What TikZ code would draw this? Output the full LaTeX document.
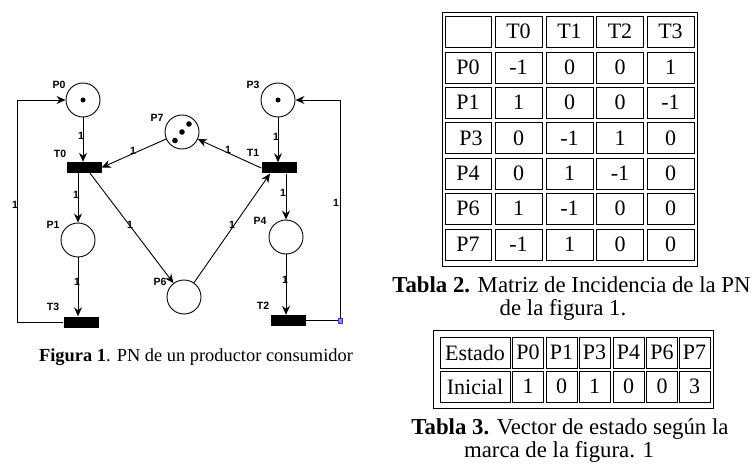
\documentclass[tikz,border=0pt]{standalone}
\usepackage{fontspec}
\setmainfont{Liberation Serif}
\newfontfamily\netsans{Liberation Sans}
\usepackage{tikz}
\usetikzlibrary{arrows.meta,calc}

\begin{document}
\begin{tikzpicture}[x=1pt,y=-1pt,
	place/.style={draw,circle,minimum size=34,inner sep=0,line width=0.9pt},
	trans/.style={fill=black,minimum width=35,minimum height=11,inner sep=0},
	arc/.style={line width=0.9pt,-{Stealth[length=9pt,width=8pt,inset=3pt]}},
	netlbl/.style={font=\netsans\bfseries\fontsize{10.5}{12}\selectfont,inner sep=0},
	cell/.style={draw,line width=0.9pt,minimum width=47,minimum height=31,inner sep=0,font=\fontsize{22}{24}\selectfont},
	vcell/.style={cell,minimum width=31},
	capt/.style={font=\fontsize{22.8}{26}\selectfont,inner sep=0,anchor=base}]
	\useasboundingbox (0,0) rectangle (754,470);
	% places and transitions
	\node[place] (P0) at (83,100) {};
	\node[place] (P7) at (182,132) {};
	\node[place] (P3) at (278,100) {};
	\node[place] (P1) at (78,240) {};
	\node[place] (P6) at (184,297) {};
	\node[place] (P4) at (286,237) {};
	\node[trans] (T0) at (84,167.5) {};
	\node[trans] (T1) at (279,168) {};
	\node[trans] (T3) at (81,322) {};
	\node[trans] (T2) at (288,320.5) {};
	% tokens
	\fill (P0) circle (2.5pt);
	\fill (P3) circle (2.5pt);
	\fill ($(P7)+(7,-8)$) circle (2.8pt);
	\fill (P7) circle (2.8pt);
	\fill ($(P7)+(-7,8.5)$) circle (2.8pt);
	% names
	\node[netlbl] (lP0) at (59,85) {P0};
	\node[netlbl] (lT0) at (60,153.5) {T0};
	\node[netlbl] (lP7) at (157,117.5) {P7};
	\node[netlbl] (lP3) at (253,85) {P3};
	\node[netlbl] (lT1) at (253,153) {T1};
	\node[netlbl] (lP1) at (53,225) {P1};
	\node[netlbl] (lT3) at (53,307) {T3};
	\node[netlbl] (lP6) at (160,282) {P6};
	\node[netlbl] (lP4) at (260,221) {P4};
	\node[netlbl] (lT2) at (263,306) {T2};
	% arcs
	\draw[arc] (P0) -- (P0 |- T0.north);
	\draw[arc] (P7) -- (T0.east);
	\draw[arc] (T0.south -| P1) -- (P1);
	\draw[arc] ([xshift=6pt]T0.south) -- (P6);
	\draw[arc] (P1) -- (P1 |- T3.north);
	\draw[arc] (P3) -- (P3 |- T1.north);
	\draw[arc] (T1.west) -- (P7);
	\draw[arc] (T1.south -| P4) -- (P4);
	\draw[arc] (P6) -- ([xshift=-9pt]T1.south);
	\draw[arc] (P4) -- (P4 |- T2.north);
	\coordinate (loopL) at (17,322);
	\coordinate (loopR) at (340,320.5);
	\draw[arc] (T3.west) -- (loopL) |- (P0);
	\draw[arc] (T2.east) -- (loopR) |- (P3);
	\node[draw=blue!80,fill=blue!45,minimum size=4.5,inner sep=0] (mk) at (loopR) {};
	% weights
	\node[netlbl] (w1) at (81,136) {1};
	\node[netlbl] (w2) at (133,151) {1};
	\node[netlbl] (w3) at (76,195) {1};
	\node[netlbl] (w4) at (15,205) {1};
	\node[netlbl] (w5) at (130,225) {1};
	\node[netlbl] (w6) at (77,282) {1};
	\node[netlbl] (w7) at (228,150) {1};
	\node[netlbl] (w8) at (276,137) {1};
	\node[netlbl] (w9) at (283,193) {1};
	\node[netlbl] (w10) at (336,203) {1};
	\node[netlbl] (w11) at (232,225) {1};
	\node[netlbl] (w12) at (285,280) {1};
	\node[inner sep=0,anchor=base,font=\fontsize{18.4}{22}\selectfont] (fig) at (196,361) {\textbf{Figura 1}. PN de un productor consumidor};
	% tabla 2
	\draw[line width=0.9pt] (442,12) rectangle (697,266);
	\node[cell,minimum width=46] (a00) at (468,31.5) {};
	\node[cell] (a01) at (518.5,31.5) {T0};
	\node[cell] (a02) at (569.5,31.5) {T1};
	\node[cell] (a03) at (620,31.5) {T2};
	\node[cell] (a04) at (670.5,31.5) {T3};
	\node[cell,minimum width=46] (a10) at (468,67.5) {P0};
	\node[cell] (a11) at (518.5,67.5) {-1};
	\node[cell] (a12) at (569.5,67.5) {0};
	\node[cell] (a13) at (620,67.5) {0};
	\node[cell] (a14) at (670.5,67.5) {1};
	\node[cell,minimum width=46] (a20) at (468,102.5) {P1};
	\node[cell] (a21) at (518.5,102.5) {1};
	\node[cell] (a22) at (569.5,102.5) {0};
	\node[cell] (a23) at (620,102.5) {0};
	\node[cell] (a24) at (670.5,102.5) {-1};
	\node[cell,minimum width=46] (a30) at (468,138) {\hspace{6pt}P3};
	\node[cell] (a31) at (518.5,138) {0};
	\node[cell] (a32) at (569.5,138) {-1};
	\node[cell] (a33) at (620,138) {1};
	\node[cell] (a34) at (670.5,138) {0};
	\node[cell,minimum width=46] (a40) at (468,173.5) {P4};
	\node[cell] (a41) at (518.5,173.5) {0};
	\node[cell] (a42) at (569.5,173.5) {1};
	\node[cell] (a43) at (620,173.5) {-1};
	\node[cell] (a44) at (670.5,173.5) {0};
	\node[cell,minimum width=46] (a50) at (468,208.5) {P6};
	\node[cell] (a51) at (518.5,208.5) {1};
	\node[cell] (a52) at (569.5,208.5) {-1};
	\node[cell] (a53) at (620,208.5) {0};
	\node[cell] (a54) at (670.5,208.5) {0};
	\node[cell,minimum width=46] (a60) at (468,244.5) {P7};
	\node[cell] (a61) at (518.5,244.5) {-1};
	\node[cell] (a62) at (569.5,244.5) {1};
	\node[cell] (a63) at (620,244.5) {0};
	\node[cell] (a64) at (670.5,244.5) {0};
	\node[capt] (cap2a) at (571.5,292) {\textbf{Tabla 2.} Matriz de Incidencia de la PN};
	\node[capt] (cap2b) at (563,315) {de la figura 1.};
	% tabla 3
	\draw[line width=0.9pt] (433,330) rectangle (713,408);
	\node[cell,minimum width=70] (b00) at (475,352.5) {Estado};
	\node[vcell] (b01) at (528,352.5) {P0};
	\node[vcell] (b02) at (561.5,352.5) {P1};
	\node[vcell] (b03) at (594.5,352.5) {P3};
	\node[vcell] (b04) at (628.5,352.5) {P4};
	\node[vcell] (b05) at (662,352.5) {P6};
	\node[vcell] (b06) at (694.5,352.5) {P7};
	\node[cell,minimum width=70] (b10) at (475,386.5) {Inicial};
	\node[vcell] (b11) at (528,386.5) {1};
	\node[vcell] (b12) at (561.5,386.5) {0};
	\node[vcell] (b13) at (594.5,386.5) {1};
	\node[vcell] (b14) at (628.5,386.5) {0};
	\node[vcell] (b15) at (662,386.5) {0};
	\node[vcell] (b16) at (694.5,386.5) {3};
	\node[capt] (cap3a) at (570,434) {\textbf{Tabla 3.} Vector de estado según la};
	\node[capt] (cap3b) at (559,457) {marca de la figura. 1};
\end{tikzpicture}
\end{document}
